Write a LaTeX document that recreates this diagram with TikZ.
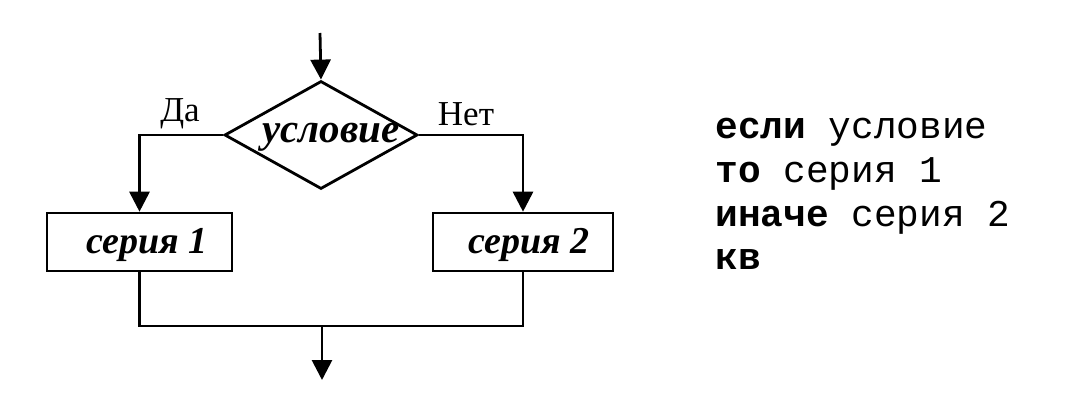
\documentclass[tikz,border=0pt]{standalone}
\usepackage{fontspec}
\setmainfont{Liberation Serif}
\setmonofont{Liberation Mono}
\usetikzlibrary{arrows.meta,shapes.geometric}
\tikzset{
  line/.style={line width=1.4pt},
  arr/.style={line, -{Triangle[length=10pt,width=10pt]}},
  boxnode/.style={draw, line width=1.3pt, minimum height=29pt, inner sep=0pt},
  lbl/.style={font=\fontsize{19}{23}\selectfont\bfseries\itshape, inner sep=0pt},
  yesno/.style={font=\fontsize{17.5}{21}\selectfont, inner sep=0pt},
  code/.style={font=\fontsize{18.9}{22}\selectfont\ttfamily, anchor=base west, inner sep=0pt}
}
\begin{document}
\begin{tikzpicture}[x=0.5pt,y=-0.5pt]
\useasboundingbox (0,0) rectangle (1066,412);
\coordinate (in) at (320,33);
\node[diamond, draw, line width=1.4pt, minimum width=96.5pt, minimum height=54pt, inner sep=0pt] (d) at (321,135) {};
\node[lbl, font=\fontsize{20.5}{24}\selectfont\bfseries\itshape] (dtxt) at (331,137) {условие};
\node[boxnode, minimum width=92.5pt] (b1) at (139.5,242) {};
\node[lbl] (b1t) at (147,245) {серия 1};
\node[boxnode, minimum width=90pt] (b2) at (523,242) {};
\node[lbl] (b2t) at (529,245) {серия 2};
\coordinate (m) at (322,326);
\coordinate (out) at (322,380);
\node[yesno] (da) at (180,114) {Да};
\node[yesno] (net) at (466,114) {Нет};
\draw[arr] (in) -- (d.north);
\draw[arr] (d.west) -| (b1.north);
\draw[arr] (d.east) -| (b2.north);
\draw[line] (b1.south) |- (m);
\draw[line] (b2.south) |- (m);
\draw[arr] (m) -- (out);
\node[code] (c1) at (715,138) {\textbf{если} условие};
\node[code] (c2) at (715,182) {\textbf{то} серия 1};
\node[code] (c3) at (715,226) {\textbf{иначе} серия 2};
\node[code] (c4) at (715,269) {\textbf{кв}};
\end{tikzpicture}
\end{document}
